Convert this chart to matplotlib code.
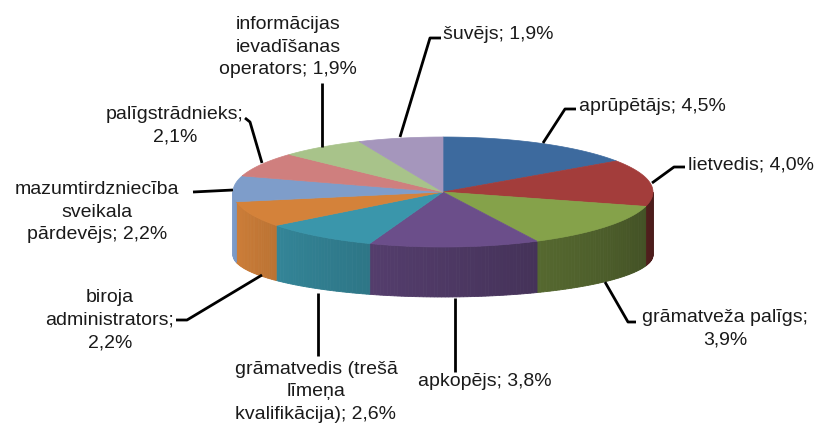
import numpy as np
import matplotlib
matplotlib.use("Agg")
import matplotlib.pyplot as plt
from matplotlib.patches import Polygon
from matplotlib.colors import to_rgb

# data (clockwise from 12 o'clock)
labels = ["aprūpētājs", "lietvedis", "grāmatveža palīgs", "apkopējs",
          "grāmatvedis (trešā\nlīmeņa\nkvalifikācija)", "biroja\nadministrators",
          "mazumtirdzniecība\nsveikala\npārdevējs", "palīgstrādnieks",
          "informācijas\nievadīšanas\noperators", "šuvējs"]
values = [4.5, 4.0, 3.9, 3.8, 2.6, 2.2, 2.2, 2.1, 1.9, 1.9]
value_text = ["4,5%", "4,0%", "3,9%", "3,8%", "2,6%", "2,2%", "2,2%", "2,1%", "1,9%", "1,9%"]
colors = ["#3d6a9e", "#a33d3b", "#85a24a", "#6b4e8a", "#3a96ab",
          "#d4823a", "#7e9dca", "#cf7f7e", "#a8c38a", "#a596bc"]

# how each label is laid out: text, text pos, alignment, leader line points
label_layout = [
    ("{}; {}", (579, 106), "left", [(543, 143), (565, 109), (576, 109)]),
    ("{}; {}", (688, 165), "left", [(652, 183), (674, 167), (685, 167)]),
    ("{};\n{}", (725, 329), "center", [(605, 282), (628, 322), (636, 322)]),
    ("{}; {}", (485, 381), "center", [(455, 298), (455, 372)]),
    ("{}; {}", (316, 392), "center", [(318, 293), (318, 356)]),
    ("{};\n{}", (110, 320), "center", [(262, 275), (187, 320), (176, 320)]),
    ("{}; {}", (97, 212), "center", [(233, 190), (193, 192)]),
    ("{};\n{}", (175, 126), "center", [(262, 163), (250, 122), (245, 118)]),
    ("{}; {}", (288, 47), "center", [(322, 147), (322, 83)]),
    ("{}; {}", (443, 34), "left", [(400, 137), (430, 38), (441, 38)]),
]

plt.rcParams['font.family'] = ['Liberation Sans', 'DejaVu Sans']

fig = plt.figure(figsize=(8.2, 4.28), dpi=100)
ax = fig.add_axes([0, 0, 1, 1])
ax.set_xlim(0, 820)
ax.set_ylim(428, 0)
ax.axis('off')

# pie geometry (pixels)
cx, cy, rx, ry = 443, 192, 210, 55
cyb, ryb = 255, 42


def top_pt(t):
    return cx + rx * np.sin(t), cy - ry * np.cos(t)


def bot_pt(t):
    return cx + rx * np.sin(t), cyb - ryb * np.cos(t)


fr = np.array(values) / sum(values)
edges = np.concatenate([[0], np.cumsum(fr)]) * 2 * np.pi

# side walls, front half only
for i in range(len(values)):
    a0 = max(edges[i], np.pi / 2)
    a1 = min(edges[i + 1], 3 * np.pi / 2)
    if a1 <= a0:
        continue
    base = np.array(to_rgb(colors[i]))
    n = max(int(np.degrees(a1 - a0)), 2)
    ts = np.linspace(a0, a1, n + 1)
    for k in range(n):
        t0, t1 = ts[k], ts[k + 1]
        tm = 0.5 * (t0 + t1)
        shade = 0.45 + 0.55 * (tm - np.pi / 2) / np.pi
        c = np.clip(base * shade, 0, 1)
        pts = [top_pt(t0), top_pt(t1), bot_pt(t1), bot_pt(t0)]
        ax.add_patch(Polygon(pts, closed=True, facecolor=c, edgecolor=c, lw=0.6))

# top faces
for i in range(len(values)):
    ts = np.linspace(edges[i], edges[i + 1], 80)
    pts = [(cx, cy)] + [top_pt(t) for t in ts]
    ax.add_patch(Polygon(pts, closed=True, facecolor=colors[i], edgecolor=colors[i], lw=0.5))

# labels and leader lines
lh = 22.5
for i, (fmt, pos, ha, line) in enumerate(label_layout):
    xs, ys = zip(*line)
    ax.plot(xs, ys, color="black", lw=2, solid_capstyle="butt")
    rows = fmt.format(labels[i], value_text[i]).split("\n")
    for k, row in enumerate(rows):
        y = pos[1] + (k - (len(rows) - 1) / 2) * lh
        ax.text(pos[0], y, row, ha=ha, va="center", fontsize=14, color="#1a1a1a")

fig.savefig("out.png", dpi=100)
